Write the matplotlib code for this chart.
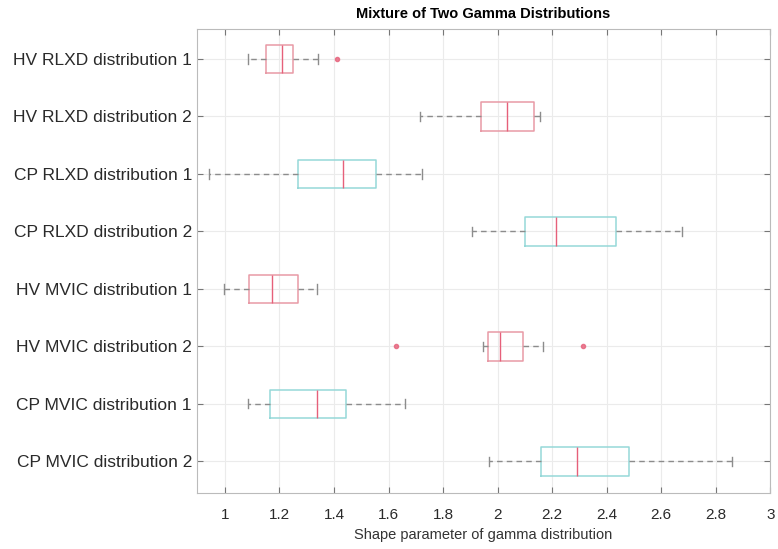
import matplotlib
matplotlib.use("Agg")
import matplotlib.pyplot as plt

plt.rcParams['font.family'] = ['Liberation Sans', 'DejaVu Sans']

# rows top to bottom
LABELS = ["HV RLXD distribution 1", "HV RLXD distribution 2",
          "CP RLXD distribution 1", "CP RLXD distribution 2",
          "HV MVIC distribution 1", "HV MVIC distribution 2",
          "CP MVIC distribution 1", "CP MVIC distribution 2"]
WHISLO = [1.085, 1.715, 0.942, 1.908, 0.998, 1.948, 1.085, 1.970]
Q1 = [1.150, 1.941, 1.268, 2.102, 1.088, 1.966, 1.165, 2.158]
MED = [1.210, 2.036, 1.433, 2.215, 1.174, 2.009, 1.336, 2.290]
Q3 = [1.249, 2.132, 1.553, 2.435, 1.268, 2.095, 1.443, 2.482]
WHISHI = [1.341, 2.155, 1.724, 2.675, 1.339, 2.168, 1.659, 2.859]
FLIERS = [[1.412], [], [], [], [], [1.626, 2.315], [], []]
GROUP = ["HV", "HV", "CP", "CP", "HV", "HV", "CP", "CP"]

BOX_COL = {"HV": "#e89aa6", "CP": "#96d8d8"}
MED_COL = "#e6607a"
WHISK_COL = "#8c8c8c"

stats = []
for i in range(len(LABELS)):
    stats.append(dict(label=LABELS[i], whislo=WHISLO[i], q1=Q1[i], med=MED[i],
                      q3=Q3[i], whishi=WHISHI[i], fliers=FLIERS[i]))

fig = plt.figure(figsize=(7.78, 5.49), dpi=100)
ax = fig.add_axes([0.253, 0.102, 0.737, 0.845])

n = len(LABELS)
pos = list(range(n, 0, -1))
bp = ax.bxp(stats, positions=pos, vert=False, widths=0.5, capwidths=0.16,
            patch_artist=False, showfliers=True,
            whiskerprops=dict(color=WHISK_COL, linestyle=(0, (4, 3)), lw=1.0),
            capprops=dict(color=WHISK_COL, lw=1.0),
            medianprops=dict(color=MED_COL, lw=1.0),
            flierprops=dict(marker="o", markersize=3, markerfacecolor=MED_COL,
                            markeredgecolor=MED_COL, alpha=0.8))
for box, g in zip(bp["boxes"], GROUP):
    box.set_color(BOX_COL[g])
    box.set_linewidth(1.1)

ax.set_xlim(0.897, 3.0)
ax.set_ylim(0.45, n + 0.52)
ax.set_xticks([1, 1.2, 1.4, 1.6, 1.8, 2, 2.2, 2.4, 2.6, 2.8, 3])
ax.set_xticklabels(["1", "1.2", "1.4", "1.6", "1.8", "2", "2.2", "2.4",
                    "2.6", "2.8", "3"])
ax.set_yticks(pos)
ax.set_yticklabels(LABELS)
ax.grid(True, color="#ebebeb", lw=0.8)
ax.set_axisbelow(True)
ax.tick_params(axis="both", labelsize=11, colors="#777777", labelcolor="#2a2a2a",
               direction="in", length=4, top=True, right=True)
ax.tick_params(axis="y", labelsize=12.5)
ax.tick_params(axis="x", pad=11)
for s in ax.spines.values():
    s.set_color("#bbbbbb")
ax.set_xlabel("Shape parameter of gamma distribution", fontsize=10.5,
              color="#333333", labelpad=4)
ax.set_title("Mixture of Two Gamma Distributions", fontsize=10.5,
             fontweight="bold", pad=8)

fig.savefig("out.png", dpi=100)
